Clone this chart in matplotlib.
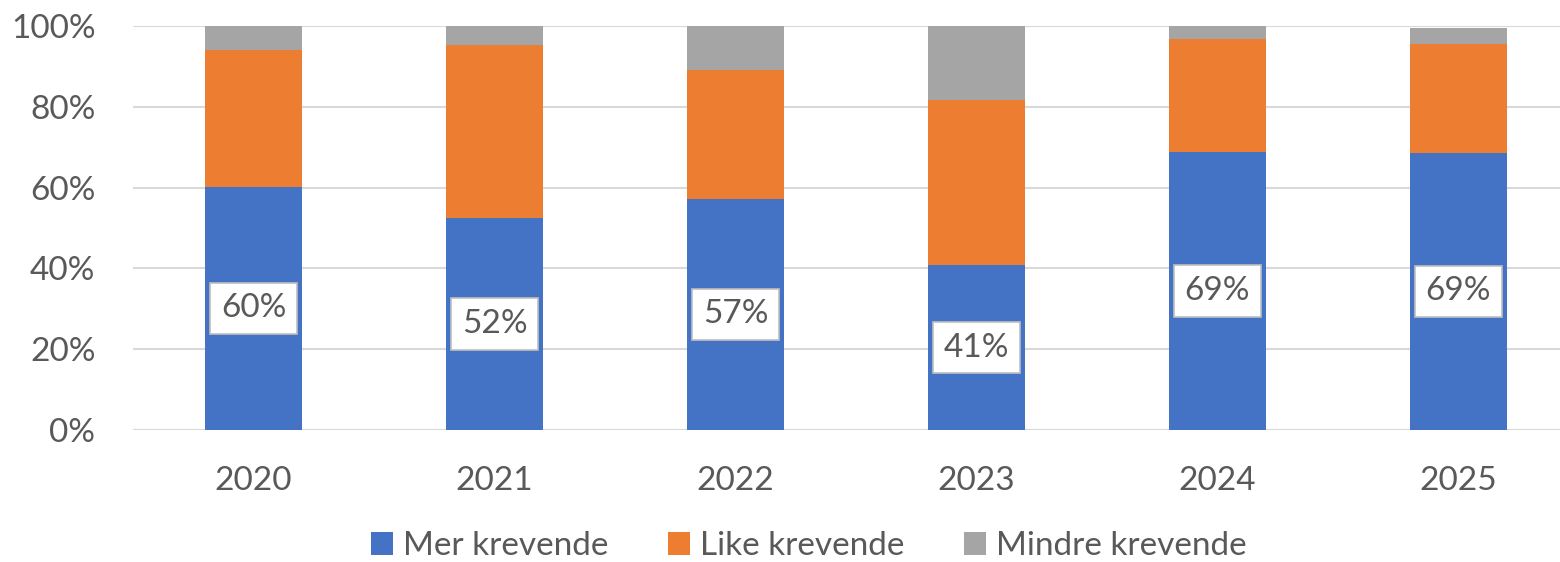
import matplotlib.pyplot as plt
import numpy as np

# data
years = ["2020", "2021", "2022", "2023", "2024", "2025"]
mer = [60.2, 52.5, 57.2, 40.8, 68.8, 68.6]
like = [33.9, 42.8, 31.9, 40.8, 28.0, 26.9]
mindre = [5.9, 4.7, 10.9, 18.4, 3.2, 4.0]
mer_labels = ["60%", "52%", "57%", "41%", "69%", "69%"]

plt.rcParams['font.family'] = ['Lato', 'DejaVu Sans']
txt = "#595959"

fig = plt.figure(figsize=(15.6, 5.62), dpi=100)
ax = fig.add_axes([133/1560, 1 - 430/562, 1427/1560, 404/562])

x = np.arange(len(years))
w = 0.4
b1 = ax.bar(x, mer, w, color="#4472C4", label="Mer krevende", zorder=3)
b2 = ax.bar(x, like, w, bottom=mer, color="#ED7D31", label="Like krevende", zorder=3)
bot2 = np.array(mer) + np.array(like)
b3 = ax.bar(x, mindre, w, bottom=bot2, color="#A5A5A5", label="Mindre krevende", zorder=3)

for i in range(len(years)):
    ax.text(x[i], mer[i] / 2, mer_labels[i], ha="center", va="center",
            fontsize=24, color=txt, zorder=4,
            bbox=dict(boxstyle="square,pad=0.32", fc="white", ec="#BFBFBF", lw=1.2))

ax.set_xlim(-0.5, -0.5 + 1427/241)
ax.set_ylim(0, 100)
ax.set_yticks(range(0, 101, 20))
ax.set_yticklabels([f"{v}%" for v in range(0, 101, 20)])
ax.set_xticks(x)
ax.set_xticklabels(years)
ax.tick_params(axis="both", length=0, labelsize=24, labelcolor=txt)
ax.tick_params(axis="x", pad=26)
ax.tick_params(axis="y", pad=27)
ax.grid(axis="y", color="#D9D9D9", lw=1.5, zorder=0)
for s in ax.spines.values():
    s.set_visible(False)
ax.axhline(0, color="#D9D9D9", lw=1.5, zorder=2)

fig.legend(handles=[b1, b2, b3], loc="center", bbox_to_anchor=(809/1560, 1 - 546/562),
           ncol=3, frameon=False, fontsize=24, labelcolor=txt,
           handlelength=0.65, handleheight=0.7, columnspacing=1.8, handletextpad=0.3)

fig.savefig("out.png", dpi=100)
